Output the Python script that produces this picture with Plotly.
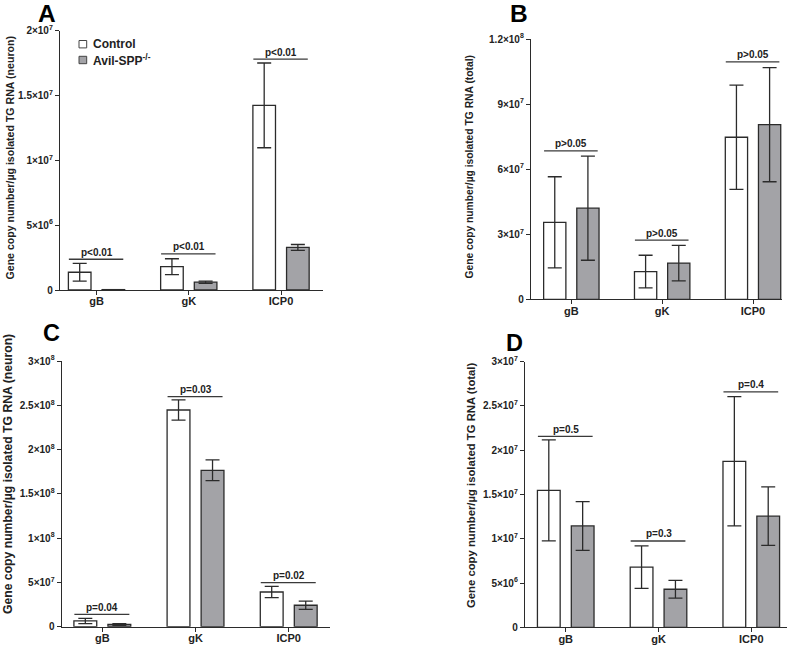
import plotly.graph_objects as go

W, H = 794, 645

categories = ["gB", "gK", "ICP0"]
series_names = ["Control", "Avil-SPP<sup>-/-</sup>"]

# Panel A (neuron)
A_ctrl = [1.37e6, 1.80e6, 14.24e6]
A_ctrl_err = [0.69e6, 0.61e6, 3.27e6]
A_spp = [0.03e6, 0.60e6, 3.28e6]
A_spp_err = [0.0, 0.09e6, 0.23e6]
A_sig_y = [2.37e6, 2.78e6, 17.8e6]
A_sig_txt = ["p<0.01", "p<0.01", "p<0.01"]
A_ticks = [0, 5e6, 1e7, 1.5e7, 2e7]
A_ticktext = ["0", "5×10<sup>6</sup>", "1×10<sup>7</sup>", "1.5×10<sup>7</sup>", "2×10<sup>7</sup>"]

# Panel B (total)
B_ctrl = [3.55e7, 1.28e7, 7.47e7]
B_ctrl_err = [2.1e7, 0.75e7, 2.4e7]
B_spp = [4.2e7, 1.67e7, 8.05e7]
B_spp_err = [2.4e7, 0.82e7, 2.63e7]
B_sig_y = [6.84e7, 2.73e7, 10.95e7]
B_sig_txt = ["p>0.05", "p>0.05", "p>0.05"]
B_ticks = [0, 3e7, 6e7, 9e7, 1.2e8]
B_ticktext = ["0", "3×10<sup>7</sup>", "6×10<sup>7</sup>", "9×10<sup>7</sup>", "1.2×10<sup>8</sup>"]

# Panel C (neuron)
C_ctrl = [6.5e6, 2.447e8, 3.92e7]
C_ctrl_err = [3.0e6, 1.15e7, 6.3e6]
C_spp = [2.5e6, 1.766e8, 2.42e7]
C_spp_err = [1.0e6, 1.17e7, 4.7e6]
C_sig_y = [1.4e7, 2.597e8, 4.97e7]
C_sig_txt = ["p=0.04", "p=0.03", "p=0.02"]
C_ticks = [0, 5e7, 1e8, 1.5e8, 2e8, 2.5e8, 3e8]
C_ticktext = ["0", "5×10<sup>7</sup>", "1×10<sup>8</sup>", "1.5×10<sup>8</sup>",
              "2×10<sup>8</sup>", "2.5×10<sup>8</sup>", "3×10<sup>8</sup>"]

# Panel D (total)
D_ctrl = [15.47e6, 6.8e6, 18.75e6]
D_ctrl_err = [5.7e6, 2.4e6, 7.3e6]
D_spp = [11.45e6, 4.3e6, 12.55e6]
D_spp_err = [2.75e6, 1.0e6, 3.3e6]
D_sig_y = [21.57e6, 9.75e6, 26.6e6]
D_sig_txt = ["p=0.5", "p=0.3", "p=0.4"]
D_ticks = [0, 5e6, 1e7, 1.5e7, 2e7, 2.5e7, 3e7]
D_ticktext = ["0", "5×10<sup>6</sup>", "1×10<sup>7</sup>", "1.5×10<sup>7</sup>",
              "2×10<sup>7</sup>", "2.5×10<sup>7</sup>", "3×10<sup>7</sup>"]

FONT = "Liberation Sans, Arial, sans-serif"
LINE = "#2b2b2b"
GREY = "#a3a3a7"

panels = [
    dict(label="A", ctrl=A_ctrl, ce=A_ctrl_err, spp=A_spp, se=A_spp_err, sig=A_sig_y, st=A_sig_txt,
         ticks=A_ticks, tt=A_ticktext, ymax=2e7,
         title="Gene copy number/µg isolated TG RNA (neuron)",
         xpx=(60, 323), ypx=(30.7, 290), xr=(-0.396, 2.455),
         lab=(47, 13.5, 24.5), ttl=(9, 157.5, 10.6)),
    dict(label="B", ctrl=B_ctrl, ce=B_ctrl_err, spp=B_spp, se=B_spp_err, sig=B_sig_y, st=B_sig_txt,
         ticks=B_ticks, tt=B_ticktext, ymax=1.2e8,
         title="Gene copy number/µg isolated TG RNA (total)",
         xpx=(531, 782), ypx=(39, 299.3), xr=(-0.444, 2.319),
         lab=(519, 13.5, 24.5), ttl=(469, 166.5, 10.3)),
    dict(label="C", ctrl=C_ctrl, ce=C_ctrl_err, spp=C_spp, se=C_spp_err, sig=C_sig_y, st=C_sig_txt,
         ticks=C_ticks, tt=C_ticktext, ymax=3e8,
         title="Gene copy number/µg isolated TG RNA (neuron)",
         xpx=(61.7, 330), ypx=(361, 626.7), xr=(-0.436, 2.443),
         lab=(51.3, 333, 23.5), ttl=(7.5, 474.5, 12.2)),
    dict(label="D", ctrl=D_ctrl, ce=D_ctrl_err, spp=D_spp, se=D_spp_err, sig=D_sig_y, st=D_sig_txt,
         ticks=D_ticks, tt=D_ticktext, ymax=3e7,
         title="Gene copy number/µg isolated TG RNA (total)",
         xpx=(525, 787), ypx=(361.7, 627.3), xr=(-0.439, 2.385),
         lab=(514.5, 343, 23.5), ttl=(471, 486, 11.3)),
]

fig = go.Figure()
BW = 0.245
OFF_C = -0.305
OFF_S = 0.06
xpos = list(range(len(categories)))

for i, p in enumerate(panels):
    n = "" if i == 0 else str(i + 1)
    xa, ya = "x" + n, "y" + n
    fig.add_trace(go.Bar(
        x=xpos, y=p["ctrl"], width=BW, offset=OFF_C, xaxis=xa, yaxis=ya,
        marker=dict(color="white", line=dict(color=LINE, width=1.3)),
        error_y=dict(type="data", array=p["ce"], color=LINE, thickness=1.3, width=7),
        name=series_names[0], showlegend=False))
    fig.add_trace(go.Bar(
        x=xpos, y=p["spp"], width=BW, offset=OFF_S, xaxis=xa, yaxis=ya,
        marker=dict(color=GREY, line=dict(color=LINE, width=1.3)),
        error_y=dict(type="data", array=p["se"], color=LINE, thickness=1.3, width=7),
        name=series_names[1], showlegend=False))

    x0, x1 = p["xpx"]
    yt, yb = p["ypx"]
    axis_common = dict(showline=True, linecolor=LINE, linewidth=1.3, ticks="outside",
                       tickwidth=1.2, tickcolor=LINE, showgrid=False, zeroline=False,
                       automargin=False)
    fig.update_layout(**{
        "xaxis" + n: dict(domain=[x0 / W, x1 / W], range=list(p["xr"]), anchor=ya,
                          tickvals=xpos, ticktext=["<b>%s</b>" % c for c in categories],
                          ticklen=4, ticklabelstandoff=-3,
                          tickfont=dict(family=FONT, size=11, color="#222"), **axis_common),
        "yaxis" + n: dict(domain=[1 - yb / H, 1 - yt / H], range=[0, p["ymax"]], anchor=xa,
                          tickvals=p["ticks"], ticktext=["<b>%s</b>" % t for t in p["tt"]],
                          ticklen=4,
                          tickfont=dict(family=FONT, size=10, color="#222"), **axis_common),
    })

    for k in range(len(categories)):
        fig.add_shape(type="line", xref=xa, yref=ya, x0=k - 0.3, x1=k + 0.29,
                      y0=p["sig"][k], y1=p["sig"][k], line=dict(color="#3a3a3a", width=1.3))
        fig.add_annotation(xref=xa, yref=ya, x=k, y=p["sig"][k], text="<b>%s</b>" % p["st"][k],
                           showarrow=False, yanchor="middle", yshift=7,
                           font=dict(family=FONT, size=10, color="#222"))

    lx, ly, ls = p["lab"]
    fig.add_annotation(xref="paper", yref="paper", x=lx / W, y=1 - ly / H,
                       text="<b>%s</b>" % p["label"], showarrow=False,
                       xanchor="center", yanchor="middle",
                       font=dict(family=FONT, size=ls, color="black"))
    tx, ty, ts = p["ttl"]
    fig.add_annotation(xref="paper", yref="paper", x=tx / W, y=1 - ty / H,
                       text="<b>%s</b>" % p["title"], showarrow=False, textangle=-90,
                       xanchor="center", yanchor="middle",
                       font=dict(family=FONT, size=ts, color="#222"))

# Legend (panel A)
leg_y = [44.2, 60]
leg_fill = ["white", GREY]
for j in range(2):
    fig.add_shape(type="rect", xref="paper", yref="paper",
                  x0=79 / W, x1=86.7 / W, y0=1 - (leg_y[j] + 3.7) / H, y1=1 - (leg_y[j] - 3.7) / H,
                  fillcolor=leg_fill[j], line=dict(color="#444", width=1))
    fig.add_annotation(xref="paper", yref="paper", x=91 / W, y=1 - leg_y[j] / H,
                       text="<b>%s</b>" % series_names[j], showarrow=False,
                       xanchor="left", yanchor="middle",
                       font=dict(family=FONT, size=12, color="#222"))

fig.update_layout(width=W, height=H, margin=dict(l=0, r=0, t=0, b=0, autoexpand=False),
                  paper_bgcolor="white", plot_bgcolor="white", showlegend=False,
                  barmode="overlay")

fig.write_html("out.html", config={"displayModeBar": False},
               post_script="document.body.style.margin='0';document.body.style.overflow='hidden';")
